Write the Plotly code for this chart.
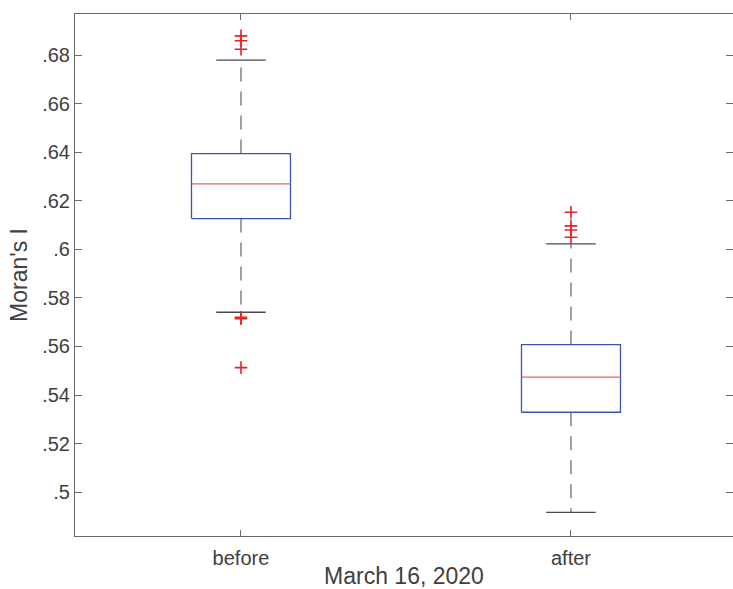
import plotly.graph_objects as go

# ---- data ----
categories = ["before", "after"]
positions = [1, 2]
q1 = [0.6127, 0.5329]
medians = [0.6270, 0.5474]
q3 = [0.6395, 0.5608]
lower_whisker = [0.5741, 0.4916]
upper_whisker = [0.6780, 0.6023]
outliers_before = [0.6880, 0.6860, 0.6825, 0.5720, 0.5714, 0.5513]
outliers_after = [0.6153, 0.6097, 0.6080, 0.6050]
outliers = [outliers_before, outliers_after]
ytick_vals = [0.50, 0.52, 0.54, 0.56, 0.58, 0.60, 0.62, 0.64, 0.66, 0.68]
ytick_text = [".5", ".52", ".54", ".56", ".58", ".6", ".62", ".64", ".66", ".68"]
x_title = "March 16, 2020"
y_title = "Moran's I"

# ---- styles ----
BOX_HALF = 0.15
CAP_HALF = 0.075
FONT = "Liberation Sans, Arial, sans-serif"
TXT = "#404040"
AX = "#6a6a6a"

wx, wy, bx, by, cx, cy, mx, my, ox, oy = [], [], [], [], [], [], [], [], [], []
for i, p in enumerate(positions):
    # whiskers
    wx += [p, p, None, p, p, None]
    wy += [q3[i], upper_whisker[i], None, q1[i], lower_whisker[i], None]
    # box
    bx += [p - BOX_HALF, p + BOX_HALF, p + BOX_HALF, p - BOX_HALF, p - BOX_HALF, None]
    by += [q1[i], q1[i], q3[i], q3[i], q1[i], None]
    # caps
    cx += [p - CAP_HALF, p + CAP_HALF, None, p - CAP_HALF, p + CAP_HALF, None]
    cy += [upper_whisker[i], upper_whisker[i], None, lower_whisker[i], lower_whisker[i], None]
    # median
    mx += [p - BOX_HALF, p + BOX_HALF, None]
    my += [medians[i], medians[i], None]
    # outliers
    ox += [p] * len(outliers[i])
    oy += outliers[i]

fig = go.Figure()
fig.add_trace(go.Scatter(x=wx, y=wy, mode="lines", showlegend=False, hoverinfo="skip",
                         line=dict(color="#6e6e6e", width=1.3, dash="14px,10px")))
fig.add_trace(go.Scatter(x=bx, y=by, mode="lines", showlegend=False, hoverinfo="skip",
                         line=dict(color="#3b55b0", width=1.3)))
fig.add_trace(go.Scatter(x=cx, y=cy, mode="lines", showlegend=False, hoverinfo="skip",
                         line=dict(color="#4a4a4a", width=1.3)))
fig.add_trace(go.Scatter(x=mx, y=my, mode="lines", showlegend=False, hoverinfo="skip",
                         line=dict(color="#f0606a", width=1.3)))
fig.add_trace(go.Scatter(x=ox, y=oy, mode="markers", showlegend=False, hoverinfo="skip",
                         marker=dict(symbol="cross-thin", size=9,
                                     line=dict(color="#e8202a", width=1.6))))
fig.add_trace(go.Scatter(x=[None], y=[None], yaxis="y2", showlegend=False, hoverinfo="skip"))

yrange = [0.4819, 0.6970]
fig.update_layout(
    width=733, height=589,
    margin=dict(l=75, r=0, t=14, b=53, autoexpand=False),
    paper_bgcolor="white", plot_bgcolor="white",
    font=dict(family=FONT, color=TXT, size=20),
    xaxis=dict(
        range=[0.497, 2.491], tickvals=positions, ticktext=categories,
        automargin=False,
        showgrid=False, zeroline=False, showline=True, linecolor=AX, linewidth=1,
        mirror="ticks", ticks="inside", ticklen=6, tickcolor=AX, tickwidth=1,
        tickfont=dict(size=20, color=TXT), ticklabelstandoff=4,
        title=dict(text=x_title, font=dict(size=23, color=TXT), standoff=0),
    ),
    yaxis=dict(
        range=yrange, tickvals=ytick_vals, ticktext=ytick_text,
        automargin=False,
        showgrid=False, zeroline=False, showline=True, linecolor=AX, linewidth=1,
        ticks="inside", ticklen=7, tickcolor=AX, tickwidth=1,
        tickfont=dict(size=20, color=TXT),
        title=dict(text=y_title, font=dict(size=23, color=TXT), standoff=8),
    ),
    yaxis2=dict(
        range=yrange, tickvals=ytick_vals, overlaying="y", side="right", anchor="x",
        automargin=False,
        showgrid=False, zeroline=False, showline=False, showticklabels=False,
        ticks="inside", ticklen=7, tickcolor=AX, tickwidth=1,
    ),
)

fig.write_html(
    "out.html",
    config={"displayModeBar": False},
    post_script="document.body.style.margin='0';"
                "document.documentElement.style.overflow='hidden';",
)
